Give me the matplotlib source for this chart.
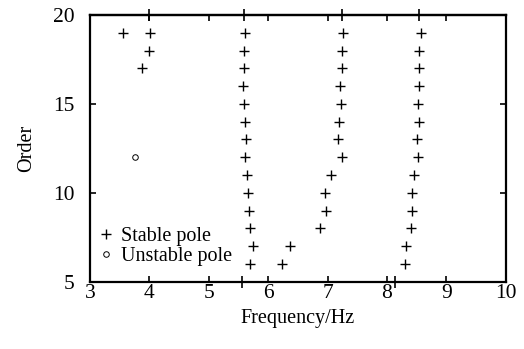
import numpy as np
import matplotlib.pyplot as plt

plt.rcParams['font.family'] = ['Liberation Serif', 'DejaVu Serif']
plt.rcParams['mathtext.fontset'] = 'stix'

# Stable poles: frequency (Hz) against model order
stable_freq = [
    3.56, 4.01, 5.61, 7.265, 8.57,      # order 19
    4.00, 5.60, 7.24, 8.54,             # order 18
    3.875, 5.59, 7.25, 8.545,           # order 17
    5.57, 7.21, 8.535,                  # order 16
    5.60, 7.225, 8.53,                  # order 15
    5.615, 7.19, 8.535,                 # order 14
    5.63, 7.17, 8.51,                   # order 13
    5.61, 7.25, 8.52,                   # order 12
    5.64, 7.05, 8.455,                  # order 11
    5.655, 6.96, 8.42,                  # order 10
    5.67, 6.97, 8.415,                  # order 9
    5.69, 6.88, 8.40,                   # order 8
    5.74, 6.37, 8.32,                   # order 7
    5.69, 6.24, 8.30,                   # order 6
]
stable_order = ([19] * 5 + [18] * 4 + [17] * 4 + [16] * 3 + [15] * 3 + [14] * 3
                + [13] * 3 + [12] * 3 + [11] * 3 + [10] * 3 + [9] * 3 + [8] * 3
                + [7] * 3 + [6] * 3)

# Unstable poles
unstable_freq = [3.75]
unstable_order = [12]

# extra marks on the top and bottom frame
marks_top = [4.0, 5.6, 7.25, 8.54]
marks_bottom = [5.55, 8.13]

x_ticks = [3, 4, 5, 6, 7, 8, 9, 10]
y_ticks = [5, 10, 15, 20]

fig = plt.figure(figsize=(5.24, 3.49), dpi=100)
ax = fig.add_axes([0.172, 0.193, 0.793, 0.764])

ax.plot(stable_freq, stable_order, linestyle='none', marker='+', color='black',
        markersize=6.5, markeredgewidth=1.0, label='Stable pole')
ax.plot(unstable_freq, unstable_order, linestyle='none', marker='o', color='black',
        markerfacecolor='none', markersize=4, markeredgewidth=0.7,
        label='Unstable pole')

ax.set_xlim(3, 10)
ax.set_ylim(5, 20)
ax.set_xticks(x_ticks)
ax.set_yticks(y_ticks)
ax.tick_params(which='major', direction='in', length=4, width=1.2,
               top=True, right=True, labelsize=15.5)
ax.tick_params(axis='x', which='major', pad=2)
ax.tick_params(axis='y', which='major', pad=11)
ax.set_xticks(marks_bottom, minor=True)
ax.tick_params(axis='x', which='minor', direction='inout', length=8, width=1.2,
               top=False, bottom=True)
ax.tick_params(axis='y', which='minor', left=False, right=False)

top = ax.secondary_xaxis('top')
top.set_xticks(marks_top)
top.set_xticklabels([])
top.tick_params(direction='inout', length=8, width=1.2)
top.spines['top'].set_linewidth(1.6)

for s in ax.spines.values():
    s.set_linewidth(1.6)

ax.set_xlabel('Frequency/Hz', fontsize=14.5, labelpad=4)
ax.set_ylabel('Order', fontsize=14.5, labelpad=12)

ax.legend(loc='lower left', frameon=False, fontsize=14.5, handlelength=0.8,
          handletextpad=0.35, labelspacing=0.0, borderaxespad=0.0,
          bbox_to_anchor=(0.0, 0.03))

fig.savefig('out.png', dpi=100)
